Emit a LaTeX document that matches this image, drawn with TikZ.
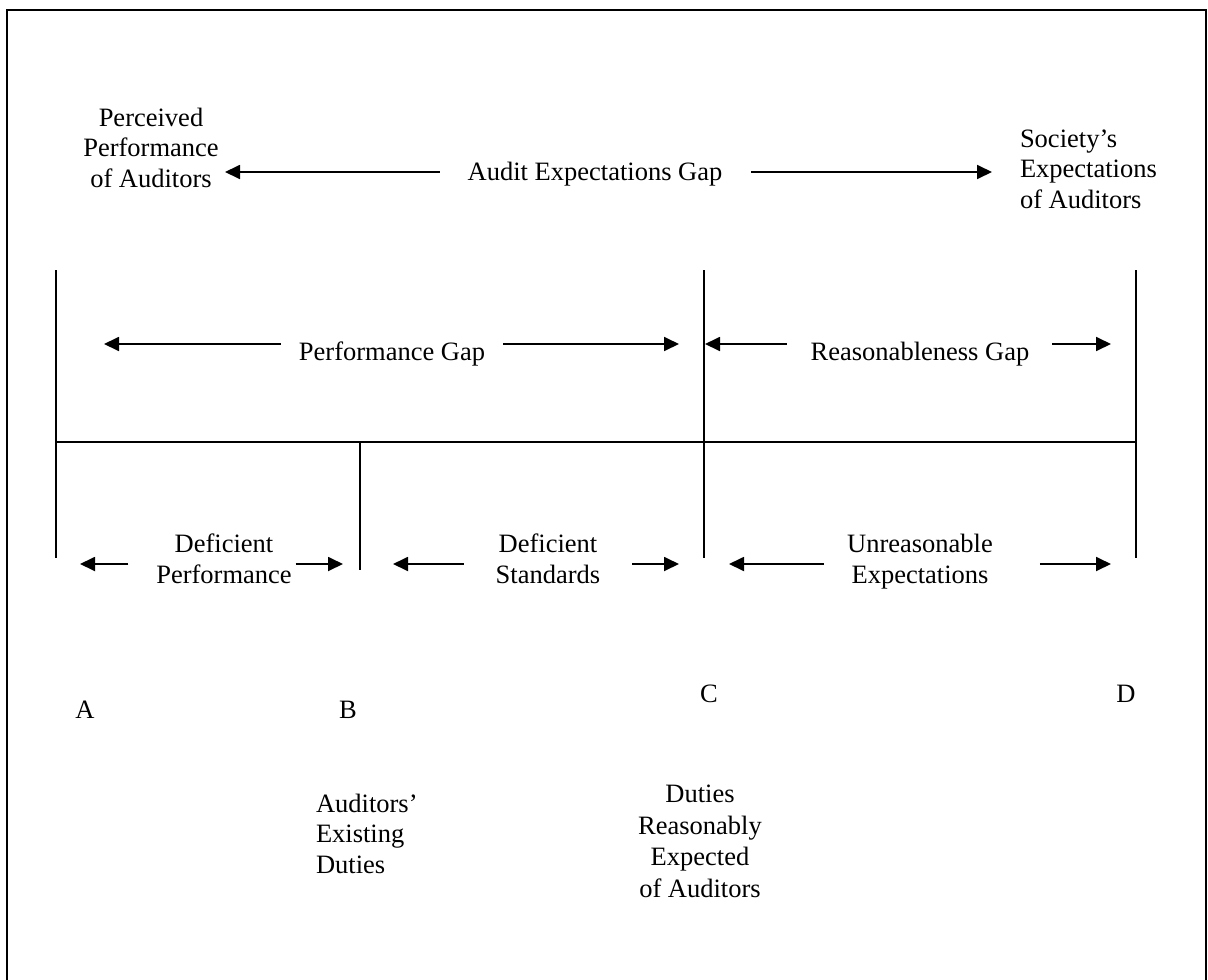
\documentclass[tikz,border=0pt]{standalone}
\usepackage{fontspec}
\setmainfont{Liberation Serif}
\usetikzlibrary{arrows.meta}
\begin{document}
\begin{tikzpicture}[x=1pt,y=-1pt,
  every node/.style={inner sep=0pt, outer sep=0pt, font=\fontsize{26.5}{30.5}\selectfont},
  bar/.style={line width=1.8pt},
  arr/.style={line width=1.8pt, -{Triangle[length=15pt,width=14pt]}},
  frame/.style={line width=2pt}]
\useasboundingbox (0,0) rectangle (1208,980);
% open frame (its bottom edge lies below the page)
\draw[frame] (7,980) -- (7,10) -- (1206,10) -- (1206,980);

% --- top row: overall expectations gap
% (multi-line nodes are placed by the baseline of their last line)
\node[anchor=base, align=center] (ppa) at (151,187) {Perceived\\Performance\\of Auditors};
\node[anchor=base west, align=left] (sea) at (1020,208) {Society’s\\Expectations\\of Auditors};
\node[anchor=base] (aeg) at (595,180) {Audit Expectations Gap};
\coordinate (aegL) at (225,172);
\coordinate (aegR) at (992,172);
\draw[arr] (aeg.west |- aegL) ++(-28,0) -- (aegL);
\draw[arr] (aeg.east |- aegR) ++(29,0) -- (aegR);

% --- scale bars
\coordinate (Atop) at (56,270);  \coordinate (Abot) at (56,558);
\coordinate (Btop) at (360,442); \coordinate (Bbot) at (360,570);
\coordinate (Ctop) at (704,270); \coordinate (Cbot) at (704,558);
\coordinate (Dtop) at (1136,270);\coordinate (Dbot) at (1136,558);
\draw[bar] (Atop) -- (Abot);
\draw[bar] (Btop) -- (Bbot);
\draw[bar] (Ctop) -- (Cbot);
\draw[bar] (Dtop) -- (Dbot);
\draw[bar] (Atop |- Btop) -- (Dtop |- Btop);

% --- middle row
\node[anchor=base] (pg) at (392,360) {Performance Gap};
\coordinate (pgL) at (104,344);
\coordinate (pgR) at (679,344);
\draw[arr] (pg.west |- pgL) ++(-18,0) -- (pgL);
\draw[arr] (pg.east |- pgR) ++(18,0) -- (pgR);

\node[anchor=base] (rg) at (920,360) {Reasonableness Gap};
\coordinate (rgL) at (705,344);
\coordinate (rgR) at (1111,344);
\draw[arr] (rg.west |- rgL) ++(-24,0) -- (rgL);
\draw[arr] (rg.east |- rgR) ++(23,0) -- (rgR);

% --- bottom row
\node[anchor=base, align=center] (dp) at (224,583) {Deficient\\Performance};
\coordinate (dpL) at (80,564);
\coordinate (dpR) at (343,564);
\draw[arr] (dp.west |- dpL) ++(-28,0) -- (dpL);
\draw[arr] (dp.east |- dpR) ++(4,0) -- (dpR);

\node[anchor=base, align=center] (ds) at (548,583) {Deficient\\Standards};
\coordinate (dsL) at (393,564);
\coordinate (dsR) at (679,564);
\draw[arr] (ds.west |- dsL) ++(-32,0) -- (dsL);
\draw[arr] (ds.east |- dsR) ++(32,0) -- (dsR);

\begin{scope}
  \clip (780,500) rectangle (1060,588);
  \node[anchor=base, align=center] (ue) at (920,583) {Unreasonable\\Expectations};
\end{scope}
\coordinate (ueL) at (729,564);
\coordinate (ueR) at (1111,564);
\draw[arr] (ue.west |- ueL) ++(-23,0) -- (ueL);
\draw[arr] (ue.east |- ueR) ++(47,0) -- (ueR);

% --- points on the scale
\node[anchor=base] (ptA) at (85,718) {A};
\node[anchor=base] (ptB) at (348,718) {B};
\node[anchor=base] (ptC) at (709,702) {C};
\node[anchor=base] (ptD) at (1126,702) {D};

\node[anchor=base west, align=left] (aed) at (316,873) {Auditors’\\Existing\\Duties};
\node[anchor=base, align=center, font=\fontsize{26.5}{31.5}\selectfont] (dre) at (700,897) {Duties\\Reasonably\\Expected\\of Auditors};
\end{tikzpicture}
\end{document}
